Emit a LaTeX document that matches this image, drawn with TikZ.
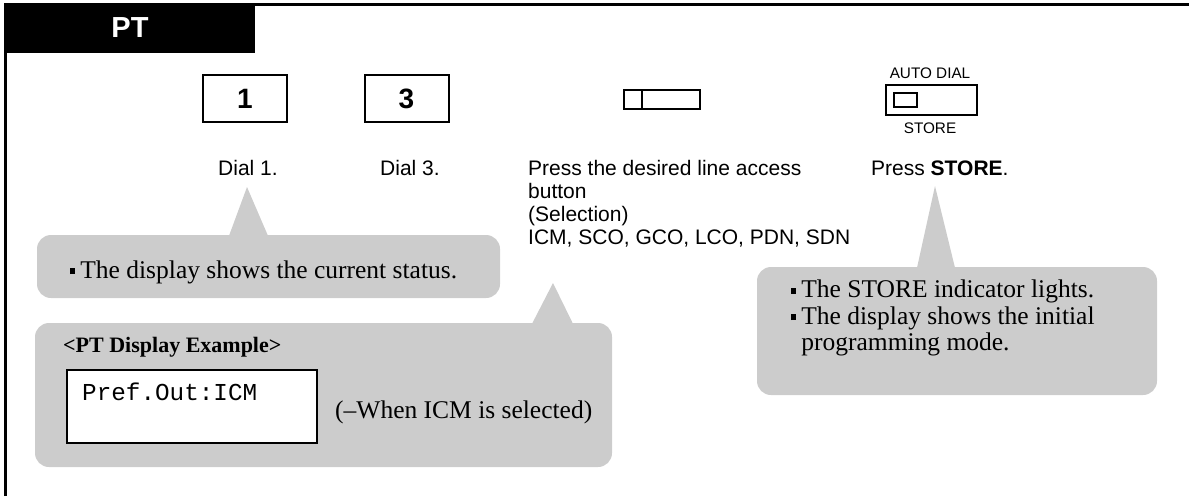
\documentclass[tikz,border=0pt]{standalone}
\usepackage{fontspec}
\setmainfont{Liberation Serif}
\setsansfont{Liberation Sans}
\setmonofont{Liberation Mono}
\usetikzlibrary{calc}
\definecolor{callgray}{RGB}{204,204,204}
\newcommand\sqb{\rule[0.17em]{0.18em}{0.22em}\hspace{0.22em}}

\begin{document}
\begin{tikzpicture}[x=1pt, y=-1pt,
    keycap/.style={rectangle, draw, line width=2pt, minimum width=84pt, minimum height=47pt, inner sep=0pt, font=\sffamily\bfseries\fontsize{28}{28}\selectfont},
    caption/.style={inner sep=0pt, anchor=base west, font=\sffamily\fontsize{21}{23}\selectfont},
    tiny/.style={inner sep=0pt, anchor=base, font=\sffamily\fontsize{15.3}{16}\selectfont},
    bubble/.style={rectangle, fill=callgray, rounded corners=14pt, inner sep=0pt},
    note/.style={inner sep=0pt, align=left, font=\fontsize{25.5}{26.5}\selectfont}]

    \useasboundingbox (0,0) rectangle (1189,496);
    \draw[line width=2.5pt] (5.3,496) -- (5.3,4.5) -- (1189,4.5);
    \node[fill=black, text=white, minimum width=250pt, minimum height=50pt, inner sep=0pt, font=\sffamily\bfseries\fontsize{29}{29}\selectfont] (tab) at (130,28) {PT};

    \node[bubble, minimum width=463pt, minimum height=63pt] (statusbox) at (268.5,266.5) {};
    \node[bubble, minimum width=577pt, minimum height=144pt] (examplebox) at (323.5,395) {};
    \node[bubble, minimum width=400pt, minimum height=128pt] (storebox) at (957,331) {};

    \coordinate (tip1) at (247,187);
    \coordinate (tip2) at (553,283);
    \coordinate (tip3) at (935,186);
    \fill[callgray] ($(statusbox.north)+(-39.5,1)$) -- (tip1) -- ($(statusbox.north)+(-0.5,1)$) -- cycle;
    \fill[callgray] ($(examplebox.north)+(208.5,1)$) -- (tip2) -- ($(examplebox.north)+(249.5,1)$) -- cycle;
    \fill[callgray] ($(storebox.north)+(-40,1)$) -- (tip3) -- ($(storebox.north)+(-2,1)$) -- cycle;

    \node[keycap] (one) at (245,98.5) {1};
    \node[keycap] (three) at (406.5,98.5) {3};
    \node[rectangle, draw, line width=2pt, minimum width=76pt, minimum height=19pt, inner sep=0pt] (line) at (662,99.5) {};
    \draw[line width=2pt] ([xshift=19pt]line.north west) -- ([xshift=19pt]line.south west);
    \node[rectangle, draw, line width=2pt, minimum width=91pt, minimum height=30pt, inner sep=0pt] (store) at (931.5,100) {};
    \node[rectangle, draw, line width=2pt, minimum width=23pt, minimum height=14pt, inner sep=0pt, anchor=west] (lamp) at ($(store.west)+(8,0)$) {};
    \node[tiny] (autodial) at (930,78.5) {AUTO DIAL};
    \node[tiny] (storelabel) at (930,133.5) {STORE};

    \node[caption, anchor=base] (dial1) at (248,175.5) {Dial 1.};
    \node[caption, anchor=base] (dial3) at (410,175.5) {Dial 3.};
    \node[caption, anchor=north west, align=left] (press) at (528,160.2) {Press the desired line access\\button\\(Selection)\\ICM, SCO, GCO, LCO, PDN, SDN};
    \node[caption] (pressstore) at (871,175.5) {Press \textbf{STORE}.};

    \node[note, anchor=base west] (status) at (70,278.4) {\sqb The display shows the current status.};
    \node[note, anchor=north west] (storenote) at (791,280) {\sqb The STORE indicator lights.\\\sqb The display shows the initial\\\hphantom{\sqb}programming mode.};
    \node[inner sep=0pt, anchor=base west, font=\bfseries\fontsize{22}{22}\selectfont] (extitle) at (63,352) {<PT Display Example>};
    \node[draw, fill=white, line width=1.2pt, minimum width=250pt, minimum height=73pt, inner sep=0pt] (lcd) at (192,406.5) {};
    \node[inner sep=0pt, anchor=base west, font=\ttfamily\fontsize{24.3}{24.3}\selectfont] (lcdtext) at (82,400) {Pref.Out:ICM};
    \node[note, anchor=base west] (when) at (335,418) {(--When ICM is selected)};
\end{tikzpicture}
\end{document}
